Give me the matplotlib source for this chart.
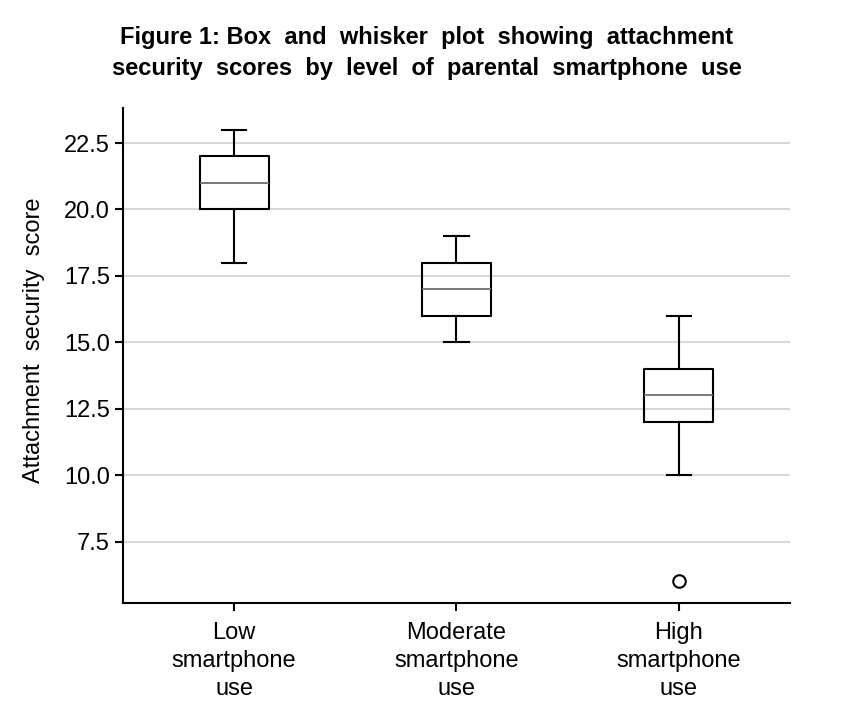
import matplotlib.pyplot as plt

plt.rcParams['font.family'] = ['Liberation Sans', 'DejaVu Sans']

# categories and five-number summaries
groups = ['Low\nsmartphone\nuse', 'Moderate\nsmartphone\nuse', 'High\nsmartphone\nuse']
whislo = [18, 15, 10]
q1 = [20, 16, 12]
med = [21, 17, 13]
q3 = [22, 18, 14]
whishi = [23, 19, 16]
fliers = [[], [], [6]]

stats = []
for i in range(len(groups)):
    stats.append({'whislo': whislo[i], 'q1': q1[i], 'med': med[i], 'q3': q3[i],
                  'whishi': whishi[i], 'fliers': fliers[i], 'label': groups[i]})

fig = plt.figure(figsize=(8.54, 7.22), dpi=100)
ax = fig.add_axes([0.144, 0.165, 0.781, 0.685])

ax.bxp(stats, positions=[1, 2, 3], widths=0.31, showfliers=True,
       boxprops=dict(color='black', linewidth=1.5),
       whiskerprops=dict(color='black', linewidth=1.5),
       capprops=dict(color='black', linewidth=1.5),
       medianprops=dict(color='#6e6e6e', linewidth=1.3),
       flierprops=dict(marker='o', markerfacecolor='white', markeredgecolor='black',
                       markersize=9, markeredgewidth=1.5),
       capwidths=0.11)

ax.set_xlim(0.5, 3.5)
ax.set_ylim(5.19, 23.81)
ax.set_yticks([7.5, 10.0, 12.5, 15.0, 17.5, 20.0, 22.5])
ax.set_yticklabels(['7.5', '10.0', '12.5', '15.0', '17.5', '20.0', '22.5'])
ax.yaxis.grid(True, color='#d9d9d9', linewidth=1.5)
ax.set_axisbelow(True)
for s in ['top', 'right']:
    ax.spines[s].set_visible(False)
for s in ['left', 'bottom']:
    ax.spines[s].set_linewidth(1.5)
ax.tick_params(axis='both', labelsize=17, width=1.5, length=6)
ax.tick_params(axis='x', pad=8)
for lbl in ax.get_xticklabels():
    lbl.set_linespacing(1.35)
ax.set_ylabel('Attachment  security  score', fontsize=17)
ax.yaxis.set_label_coords(-0.117, 0.53)

fig.text(0.5, 0.948, 'Figure 1: Box  and  whisker  plot  showing  attachment',
         ha='center', va='center', fontsize=17, fontweight='bold')
fig.text(0.5, 0.905, 'security  scores  by  level  of  parental  smartphone  use',
         ha='center', va='center', fontsize=17, fontweight='bold')

fig.savefig('out.png', dpi=100)
